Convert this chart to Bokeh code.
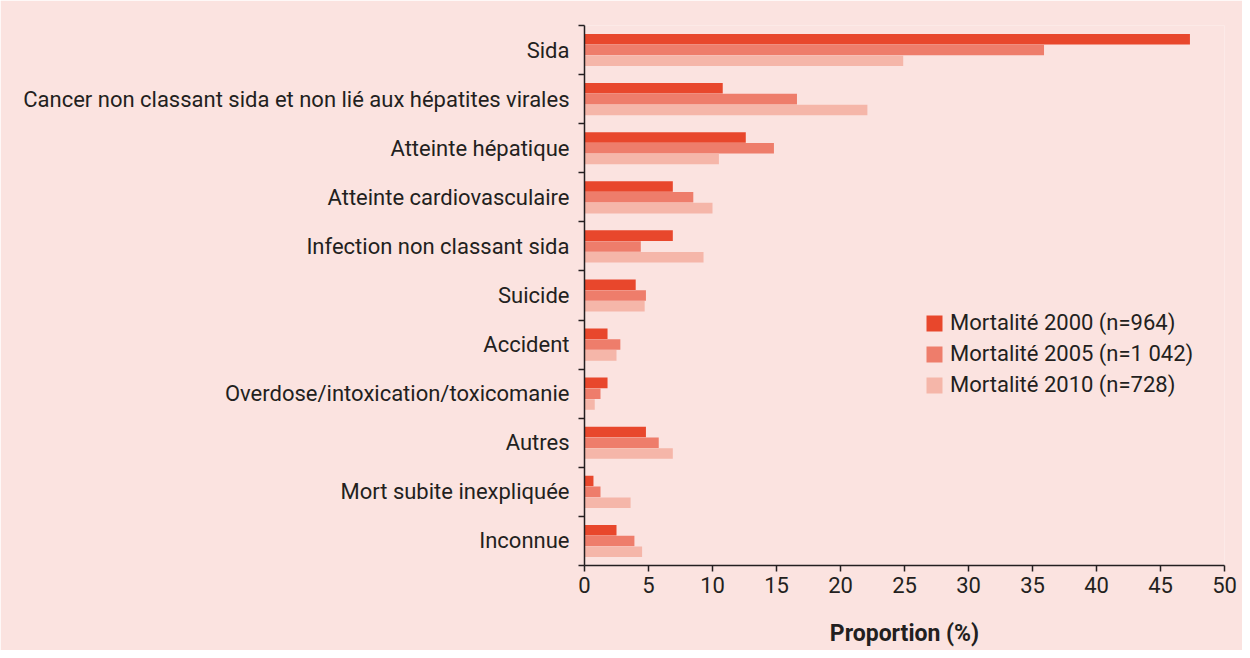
from bokeh.plotting import figure
from bokeh.models import ColumnDataSource, Range1d, FixedTicker, Legend, LegendItem
from bokeh.transform import dodge
from bokeh.embed import file_html
from bokeh.resources import INLINE

categories = [
    "Sida",
    "Cancer non classant sida et non lié aux hépatites virales",
    "Atteinte hépatique",
    "Atteinte cardiovasculaire",
    "Infection non classant sida",
    "Suicide",
    "Accident",
    "Overdose/intoxication/toxicomanie",
    "Autres",
    "Mort subite inexpliquée",
    "Inconnue",
]
m2000 = [47.3, 10.8, 12.6, 6.9, 6.9, 4.0, 1.8, 1.8, 4.8, 0.7, 2.5]
m2005 = [35.9, 16.6, 14.8, 8.5, 4.4, 4.8, 2.8, 1.25, 5.8, 1.25, 3.9]
m2010 = [24.9, 22.1, 10.5, 10.0, 9.3, 4.7, 2.5, 0.8, 6.9, 3.6, 4.5]
series_labels = ["Mortalité 2000 (n=964)", "Mortalité 2005 (n=1 042)", "Mortalité 2010 (n=728)"]
x_ticks = [0, 5, 10, 15, 20, 25, 30, 35, 40, 45, 50]

colors = ["#E8472C", "#EE7D6B", "#F5B6A9"]
BG = "#FBE3E0"
TXT = "#231F20"
FONT = "Roboto"
FS = "22px"

n = len(categories)
centers = [i + 0.5 for i in range(n)]
bounds = [float(i) for i in range(n + 1)]

src = ColumnDataSource(dict(y=centers, m2000=m2000, m2005=m2005, m2010=m2010))

p = figure(width=1242, height=650, output_backend="svg", toolbar_location=None,
           x_range=Range1d(0, 50), y_range=Range1d(n, 0),
           background_fill_color=BG, border_fill_color=BG, outline_line_color=None,
           min_border_left=584, min_border_right=18, min_border_top=25, min_border_bottom=85)
p.grid.visible = False

bh = 0.215
r1 = p.hbar(y=dodge("y", -0.22, range=p.y_range), right="m2000", left=0, height=bh, source=src,
            fill_color=colors[0], line_color=None)
r2 = p.hbar(y=dodge("y", 0.0, range=p.y_range), right="m2005", left=0, height=bh, source=src,
            fill_color=colors[1], line_color=None)
r3 = p.hbar(y=dodge("y", 0.22, range=p.y_range), right="m2010", left=0, height=bh, source=src,
            fill_color=colors[2], line_color=None)

# y axis: labels at centres, tick marks at category boundaries
ya = p.yaxis[0]
ya.ticker = FixedTicker(ticks=centers, minor_ticks=bounds)
ya.major_label_overrides = {c: lab for c, lab in zip(centers, categories)}
ya.major_tick_out = 0
ya.major_tick_in = 0
ya.minor_tick_out = 6
ya.minor_tick_in = 0
ya.minor_tick_line_color = TXT
ya.minor_tick_line_width = 1.5
ya.axis_line_color = TXT
ya.axis_line_width = 1.5
ya.major_label_standoff = 9
ya.major_label_text_font = FONT
ya.major_label_text_font_size = FS
ya.major_label_text_color = TXT

xa = p.xaxis[0]
xa.ticker = FixedTicker(ticks=x_ticks)
xa.minor_tick_line_color = None
xa.major_tick_out = 6
xa.major_tick_in = 0
xa.major_tick_line_color = TXT
xa.major_tick_line_width = 1.5
xa.axis_line_color = TXT
xa.axis_line_width = 1.5
xa.major_label_standoff = 5
xa.major_label_text_font = FONT
xa.major_label_text_font_size = FS
xa.major_label_text_color = TXT
xa.axis_label = "Proportion (%)"
xa.axis_label_text_font = FONT
xa.axis_label_text_font_style = "bold"
xa.axis_label_text_font_size = "23px"
xa.axis_label_text_color = TXT
xa.axis_label_standoff = 24

legend = Legend(items=[LegendItem(label=series_labels[0], renderers=[r1]),
                       LegendItem(label=series_labels[1], renderers=[r2]),
                       LegendItem(label=series_labels[2], renderers=[r3])],
                location=(340, 168), padding=0, margin=0, spacing=6,
                glyph_width=20, glyph_height=20, label_height=20, label_standoff=6,
                label_text_font=FONT, label_text_font_size=FS, label_text_color=TXT,
                background_fill_alpha=0, border_line_color=None)
p.add_layout(legend, "center")

open("out.html", "w").write(file_html(p, INLINE))
